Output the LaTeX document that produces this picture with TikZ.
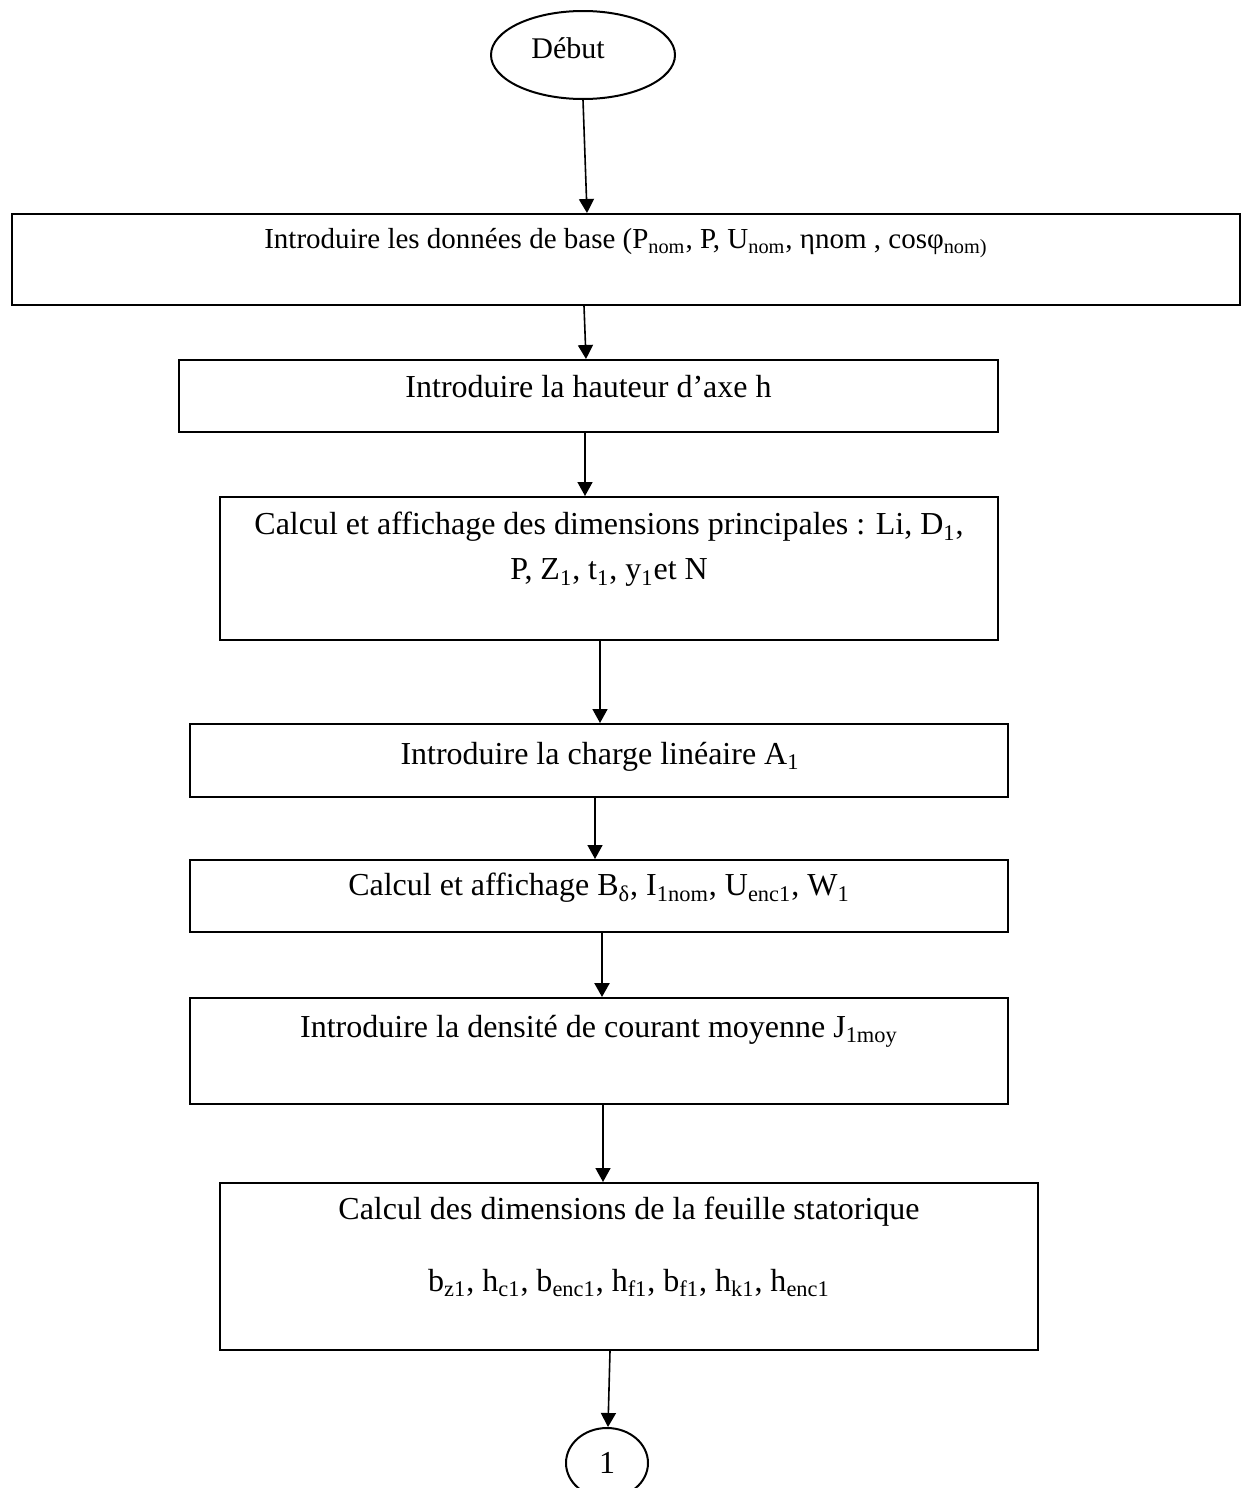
\documentclass[tikz,border=0pt]{standalone}
\usepackage{fontspec}
\setmainfont{Liberation Serif}
\usetikzlibrary{shapes.geometric,arrows.meta}
\newcommand{\sbs}[1]{\textsubscript{#1}}
\begin{document}
\begin{tikzpicture}[x=0.5pt,y=-0.5pt,
  every node/.style={font=\fontsize{16pt}{22.5pt}\selectfont},
  stepbox/.style={draw,line width=1pt,rectangle,inner sep=0pt},
  termnode/.style={draw,line width=1pt,ellipse,inner sep=0pt},
  txt/.style={inner sep=0pt,align=center},
  arr/.style={line width=0.8pt,-{Triangle[length=7pt,width=7.5pt]}}]
\useasboundingbox (0,0) rectangle (1242,1488);

% start terminal
\node[termnode,minimum width=92pt,minimum height=44pt] (deb) at (583,55) {};
\node[txt,font=\fontsize{15pt}{18pt}\selectfont] (debt) at (568,48) {Début};

% process boxes
\node[stepbox,minimum width=614pt,minimum height=45.5pt] (b1) at (626,259.5) {};
\node[txt,font=\fontsize{14.5pt}{18pt}\selectfont] (t1) at (626,243) {Introduire les données de base (P\sbs{nom}, P, U\sbs{nom}, ηnom , cosφ\sbs{nom)}};

\node[stepbox,minimum width=409.5pt,minimum height=36pt] (b2) at (588.5,396) {};
\node[txt] (t2) at (588.5,387) {Introduire la hauteur d’axe h};

\node[stepbox,minimum width=389pt,minimum height=71.5pt] (b3) at (609,568.5) {};
\node[txt] (t3) at (609,549.5) {Calcul et affichage des dimensions principales : Li, D\sbs{1},\\P, Z\sbs{1}, t\sbs{1}, y\sbs{1}et N};

\node[stepbox,minimum width=409pt,minimum height=36.5pt] (b4) at (599,760.5) {};
\node[txt] (t4) at (600,757) {Introduire la charge linéaire A\sbs{1}};

\node[stepbox,minimum width=409pt,minimum height=36pt] (b5) at (599,896) {};
\node[txt] (t5) at (599,888) {Calcul et affichage B\sbs{δ}, I\sbs{1nom}, U\sbs{enc1}, W\sbs{1}};

\node[stepbox,minimum width=409pt,minimum height=53pt] (b6) at (599,1051) {};
\node[txt] (t6) at (599,1031) {Introduire la densité de courant moyenne J\sbs{1moy}};

\node[stepbox,minimum width=409pt,minimum height=83.5pt] (b7) at (629,1266.5) {};
\node[txt] (t7a) at (629,1212) {Calcul des dimensions de la feuille statorique};
\node[txt] (t7b) at (629,1283) {b\sbs{z1}, h\sbs{c1}, b\sbs{enc1}, h\sbs{f1}, b\sbs{f1}, h\sbs{k1}, h\sbs{enc1}};

% connector circle
\node[termnode,minimum width=41pt,minimum height=35pt] (one) at (607,1463) {};
\node[txt] (onet) at (607,1463) {1};

% flow
\draw[arr] (deb.south) -- ([xshift=-19.5pt]b1.north);
\draw[arr] ([xshift=-21pt]b1.south) -- ([xshift=-1.25pt]b2.north);
\draw[arr] ([xshift=-1.75pt]b2.south) -- ([xshift=-12pt]b3.north);
\draw[arr] ([xshift=-4.5pt]b3.south) -- ([xshift=0.5pt]b4.north);
\draw[arr] ([xshift=-2pt]b4.south) -- ([xshift=-2pt]b5.north);
\draw[arr,line width=1.2pt] ([xshift=1.5pt]b5.south) -- ([xshift=1.5pt]b6.north);
\draw[arr] ([xshift=2pt]b6.south) -- ([xshift=-13pt]b7.north);
\draw[arr] ([xshift=-9.5pt]b7.south) -- ([xshift=0.5pt]one.north);
\end{tikzpicture}
\end{document}
